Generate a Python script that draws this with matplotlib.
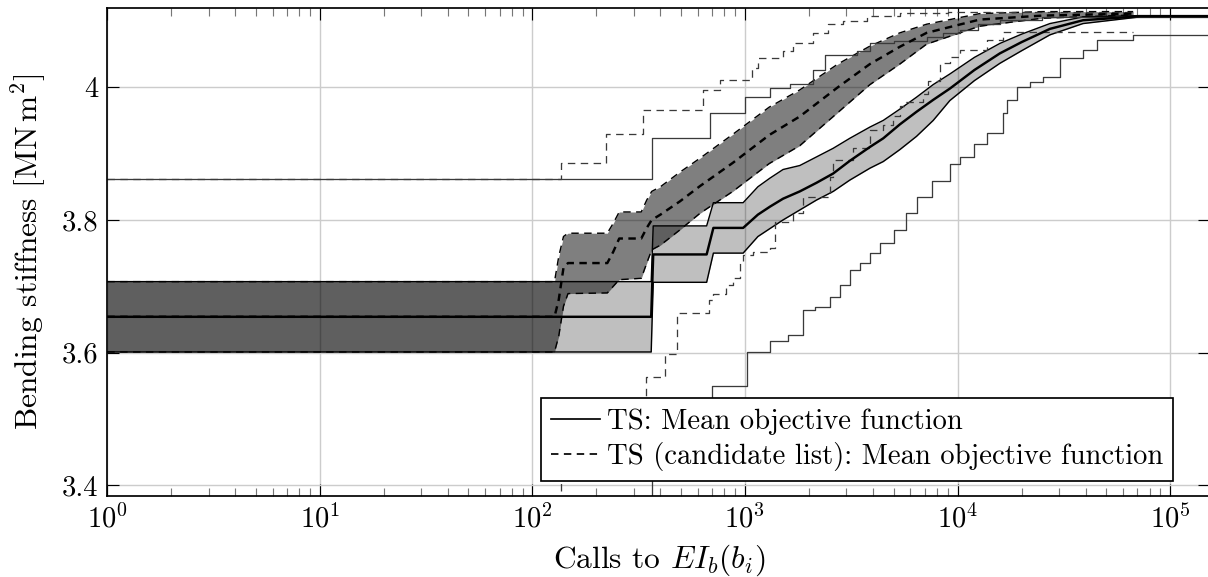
import matplotlib
matplotlib.use("Agg")
import matplotlib.pyplot as plt
from matplotlib.lines import Line2D
from matplotlib.ticker import LogLocator, FixedLocator, FixedFormatter, NullFormatter

plt.rcParams['font.family'] = ['cmr10', 'DejaVu Serif']
plt.rcParams['mathtext.fontset'] = 'cm'
plt.rcParams['axes.formatter.use_mathtext'] = True
plt.rcParams['lines.scale_dashes'] = False
plt.rcParams['font.size'] = 10

# ---------------- data ----------------
# TS: mean objective function with +/- band
ts_x = [1, 362, 370, 660, 710, 980, 1150, 1310, 1510, 1810, 2170, 2600, 3110, 3870, 4470,
        5350, 6410, 7680, 9200, 12000, 15800, 20000, 27200, 38900, 72000, 160000]
ts_lo = [3.601, 3.601, 3.706, 3.706, 3.750, 3.750, 3.775, 3.787, 3.800, 3.815, 3.830, 3.843, 3.860,
         3.878, 3.888, 3.906, 3.926, 3.950, 3.980, 4.010, 4.036, 4.055, 4.079, 4.096, 4.106, 4.107]
ts_mean = [3.654, 3.654, 3.748, 3.748, 3.788, 3.788, 3.808, 3.820, 3.832, 3.843, 3.856, 3.870, 3.889,
           3.910, 3.923, 3.944, 3.963, 3.981, 3.998, 4.026, 4.051, 4.068, 4.088, 4.101, 4.107, 4.107]
ts_hi = [3.707, 3.707, 3.791, 3.791, 3.826, 3.826, 3.850, 3.863, 3.876, 3.882, 3.895, 3.908, 3.923,
         3.940, 3.950, 3.967, 3.985, 4.004, 4.020, 4.045, 4.066, 4.080, 4.096, 4.106, 4.108, 4.108]

# TS: best / worst run (step curves)
ts_max_x = [1, 364, 682, 1000, 1310, 1620, 2100, 2390, 3380, 3870, 5000, 7200, 8500, 10250,
            12500, 15800, 25000, 160000]
ts_max_y = [3.862, 3.923, 3.961, 3.986, 3.999, 4.005, 4.026, 4.049, 4.054, 4.066, 4.070, 4.076,
            4.082, 4.087, 4.095, 4.102, 4.106, 4.107]
ts_min_x = [1, 364, 697, 1018, 1310, 1592, 1872, 2130, 2505, 2795, 3110, 3465, 3870, 4300, 5000,
            5750, 6420, 7550, 9200, 10250, 12000, 13700, 16300, 17000, 18950, 22000, 25200, 30300,
            38900, 45100, 66800, 160000]
ts_min_y = [3.30, 3.47, 3.549, 3.601, 3.617, 3.627, 3.665, 3.669, 3.684, 3.702, 3.725, 3.735, 3.750,
            3.765, 3.785, 3.810, 3.835, 3.858, 3.885, 3.895, 3.915, 3.931, 3.961, 3.981, 4.001,
            4.008, 4.016, 4.044, 4.056, 4.071, 4.079, 4.080]

# TS (candidate list): mean objective function with +/- band
cl_x = [1, 127, 133, 140, 147, 225, 240, 256, 325, 345, 364, 400, 494, 614, 876, 1300, 1811,
        2735, 3870, 5350, 7150, 12700, 25000, 67000]
cl_lo = [3.601, 3.601, 3.625, 3.670, 3.689, 3.690, 3.700, 3.710, 3.712, 3.735, 3.755, 3.762, 3.785,
         3.810, 3.843, 3.885, 3.912, 3.962, 4.004, 4.035, 4.065, 4.092, 4.104, 4.109]
cl_mean = [3.654, 3.654, 3.680, 3.728, 3.735, 3.735, 3.752, 3.772, 3.772, 3.788, 3.800, 3.808, 3.828,
           3.851, 3.886, 3.928, 3.956, 4.000, 4.035, 4.061, 4.082, 4.102, 4.108, 4.111]
cl_hi = [3.707, 3.707, 3.745, 3.775, 3.780, 3.780, 3.795, 3.812, 3.812, 3.830, 3.843, 3.850, 3.872,
         3.893, 3.929, 3.970, 3.996, 4.035, 4.062, 4.082, 4.095, 4.111, 4.114, 4.114]

# TS (candidate list): best / worst run
cl_max_x = [1, 137, 222, 332, 633, 763, 1077, 1153, 1507, 1680, 2090, 2460, 2900, 3750, 5350,
            9000, 67000]
cl_max_y = [3.862, 3.886, 3.929, 3.966, 3.996, 4.011, 4.029, 4.044, 4.055, 4.067, 4.082, 4.096,
            4.100, 4.107, 4.112, 4.114, 4.114]
cl_min_x = [1, 137, 344, 420, 477, 680, 707, 810, 877, 950, 980, 1089, 1309, 1381, 1679, 1872,
            2505, 2590, 3214, 3870, 4460, 4970, 5350, 5750, 6870, 7250, 8260, 9200, 10250, 13750,
            16350, 67000]
cl_min_y = [3.30, 3.48, 3.564, 3.598, 3.659, 3.679, 3.689, 3.702, 3.712, 3.735, 3.747, 3.752, 3.758,
            3.797, 3.810, 3.835, 3.865, 3.890, 3.908, 3.936, 3.943, 3.956, 3.971, 3.978, 3.990,
            4.009, 4.036, 4.046, 4.056, 4.071, 4.083, 4.083]

yticks = [3.4, 3.6, 3.8, 4.0]
ytick_labels = ['3.4', '3.6', '3.8', '4']
legend_labels = ['TS: Mean objective function', 'TS (candidate list): Mean objective function']

# ---------------- figure ----------------
W, H, DPI = 1208, 577, 206
fig = plt.figure(figsize=(W / DPI, H / DPI), dpi=DPI)
ax = fig.add_axes([107.3 / W, 1 - 496 / H, (1210 - 107.3) / W, (496 - 8.3) / H])
ax.set_xscale('log')
ax.set_xlim(1, 1.54e5)
ax.set_ylim(3.3839, 4.119)

ax.set_axisbelow(True)
ax.grid(True, which='major', color='#cccccc', lw=0.5)

DASH = (0, (2.6, 1.9))

# bands
ax.fill_between(ts_x, ts_lo, ts_hi, color='black', alpha=0.25, lw=0)
ax.fill_between(cl_x, cl_lo, cl_hi, color='black', alpha=0.5, lw=0)

# band edges
ax.plot(ts_x, ts_lo, color='black', lw=0.5)
ax.plot(ts_x, ts_hi, color='black', lw=0.5)
ax.plot(cl_x, cl_lo, color='black', lw=0.5, linestyle=DASH)
ax.plot(cl_x, cl_hi, color='black', lw=0.5, linestyle=DASH)

# best / worst runs
ax.step(ts_max_x, ts_max_y, where='post', color='#3a3a3a', lw=0.45)
ax.step(ts_min_x, ts_min_y, where='post', color='#3a3a3a', lw=0.45)
ax.step(cl_max_x, cl_max_y, where='post', color='#3a3a3a', lw=0.45, linestyle=DASH)
ax.step(cl_min_x, cl_min_y, where='post', color='#3a3a3a', lw=0.45, linestyle=DASH)

# means
ax.plot(ts_x, ts_mean, color='black', lw=0.85)
ax.plot(cl_x, cl_mean, color='black', lw=0.85, linestyle=DASH)

# axes styling
for s in ['left', 'bottom', 'top', 'right']:
    ax.spines[s].set_linewidth(0.6)
ax.xaxis.set_major_locator(LogLocator(base=10, numticks=20))
ax.xaxis.set_minor_locator(LogLocator(base=10, subs=[2, 3, 4, 5, 6, 7, 8, 9], numticks=50))
ax.xaxis.set_minor_formatter(NullFormatter())
ax.yaxis.set_major_locator(FixedLocator(yticks))
ax.yaxis.set_major_formatter(FixedFormatter(ytick_labels))
ax.tick_params(which='major', direction='in', length=4.25, width=0.4, top=True, right=True,
               labelsize=10, pad=3)
ax.tick_params(which='minor', direction='in', length=2.85, width=0.4, top=True, right=True,
               color='#777777')

ax.set_xlabel('Calls to $EI_b(b_i)$', fontsize=11, labelpad=3)
ax.set_ylabel('Bending stiffness [MN$\\,$m$^2$]', fontsize=11, labelpad=5)

handles = [Line2D([], [], color='black', lw=0.6),
           Line2D([], [], color='black', lw=0.6, linestyle=DASH)]
leg = ax.legend(handles, legend_labels, loc='lower right',
                bbox_to_anchor=(0.9665, 0.0308), borderaxespad=0, fontsize=10,
                handlelength=1.7, handletextpad=0.25, borderpad=0.35, labelspacing=0.25,
                fancybox=False, framealpha=1, edgecolor='black')
leg.get_frame().set_linewidth(0.6)

fig.savefig('out.png', dpi=DPI)
